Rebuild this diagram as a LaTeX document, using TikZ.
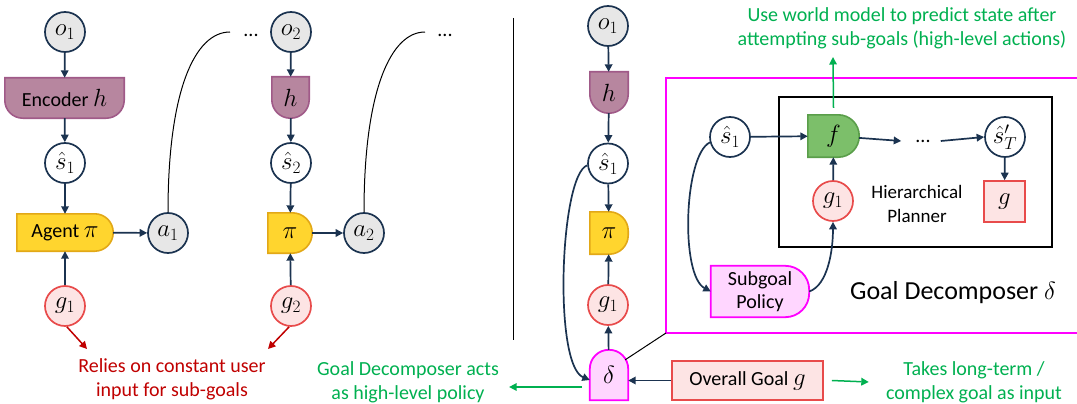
\documentclass[tikz,border=0pt]{standalone}
\usepackage{fontspec}
\setmainfont{Carlito}
\usetikzlibrary{arrows.meta}
\pgfdeclarelayer{background}
\pgfsetlayers{background,main}
\definecolor{navy}{HTML}{1B3350}
\definecolor{grayfill}{HTML}{E7E7E7}
\definecolor{mauvefill}{HTML}{B7869F}
\definecolor{mauveline}{HTML}{A05A88}
\definecolor{yelfill}{HTML}{FFD52E}
\definecolor{yelline}{HTML}{E2A817}
\definecolor{pinkfill}{HTML}{FDE4E4}
\definecolor{redline}{HTML}{E84B4B}
\definecolor{darkred}{HTML}{C00000}
\definecolor{offgreen}{HTML}{00B050}
\definecolor{magentaline}{HTML}{FF00FF}
\definecolor{magfill}{HTML}{FFD6FF}
\definecolor{ffill}{HTML}{7CBF6A}
\definecolor{fline}{HTML}{5A9E4A}
\newcommand\shapeR[3]{% right side rounded
 \draw[#3] (#1.south west) -- ([xshift=-#2]#1.south east) arc[start angle=-90,end angle=0,radius=#2] -- ([yshift=-#2]#1.north east) arc[start angle=0,end angle=90,radius=#2] -- (#1.north west) -- cycle;}
\newcommand\shapeB[3]{% bottom rounded
 \draw[#3] (#1.north west) -- (#1.north east) -- ([yshift=#2]#1.south east) arc[start angle=0,end angle=-90,radius=#2] -- ([xshift=#2]#1.south west) arc[start angle=-90,end angle=-180,radius=#2] -- cycle;}
\newcommand\shapeT[3]{% top rounded
 \draw[#3] (#1.south west) -- (#1.south east) -- ([yshift=-#2]#1.north east) arc[start angle=0,end angle=90,radius=#2] -- ([xshift=#2]#1.north west) arc[start angle=90,end angle=180,radius=#2] -- cycle;}
\tikzset{
 x=1pt,y=1pt,
 var/.style={circle,draw=navy,line width=1.7pt,minimum size=40pt,inner sep=0pt,font=\fontsize{26}{28}\selectfont},
 obs/.style={var,fill=grayfill},
 goalc/.style={var,draw=redline,fill=pinkfill},
 hold/.style={rectangle,draw=none,inner sep=0pt,font=\fontsize{20}{24}\selectfont},
 big/.style={font=\fontsize{26}{28}\selectfont},
 mauve/.style={fill=mauvefill,draw=mauveline,line width=1.6pt},
 yel/.style={fill=yelfill,draw=yelline,line width=1.6pt},
 grn/.style={fill=ffill,draw=fline,line width=1.6pt},
 mag/.style={fill=magfill,draw=magentaline,line width=1.8pt},
 arr/.style={draw=navy,line width=1.7pt,-{Triangle[length=7.5pt,width=7.5pt]}},
 redarr/.style={draw=darkred,line width=1.5pt,-{Triangle[length=7.5pt,width=7.5pt]}},
 grnarr/.style={draw=offgreen,line width=1.5pt,-{Triangle[length=7.5pt,width=7.5pt]}},
 thin/.style={draw=black,line width=1pt},
 lbl/.style={align=center,font=\fontsize{20}{24}\selectfont,inner sep=0pt},
 dotsn/.style={font=\fontsize{20}{24}\selectfont,inner sep=0pt},
}
\begin{document}
\begin{tikzpicture}
\useasboundingbox (0,0) rectangle (1077,-404);
% ---------- left panel ----------
\node[obs] (o1a) at (65,-32) {$o_1$};
\node[hold,minimum width=119pt,minimum height=40pt] (enc) at (64.5,-98) {Encoder {\fontsize{23}{24}\selectfont$h$}};
\node[var] (s1a) at (65,-163) {$\hat s_1$};
\node[hold,minimum width=96pt,minimum height=37pt] (agent) at (65,-232.5) {Agent {\fontsize{23}{24}\selectfont$\pi$}};
\node[obs] (a1) at (168,-233) {$a_1$};
\node[goalc] (g1a) at (65,-306) {$g_1$};
\node[dotsn] (d1) at (251,-35) {...};

\node[obs] (o2) at (291,-32) {$o_2$};
\node[hold,big,minimum width=37pt,minimum height=41pt] (h2) at (290.5,-97.5) {$h$};
\node[var] (s2) at (291,-163) {$\hat s_2$};
\node[hold,big,minimum width=44pt,minimum height=40pt] (pi2) at (290,-233) {$\pi$};
\node[obs] (a2) at (364,-233) {$a_2$};
\node[goalc] (g2) at (291,-306) {$g_2$};
\node[dotsn] (d2) at (445,-35) {...};

\node[lbl,text=darkred] (relies) at (172,-379) {Relies on constant user\\input for sub-goals};

\begin{pgfonlayer}{background}
\shapeB{enc}{18pt}{mauve}
\shapeR{agent}{18.5pt}{yel}
\shapeB{h2}{18.5pt}{mauve}
\shapeR{pi2}{20pt}{yel}
\end{pgfonlayer}

\draw[arr] (o1a) -- (enc);
\draw[arr] (enc) -- (s1a);
\draw[arr] (s1a) -- (agent);
\draw[arr] (g1a) -- (agent);
\draw[arr] (agent) -- (a1);
\draw[arr] (o2) -- (h2);
\draw[arr] (h2) -- (s2);
\draw[arr] (s2) -- (pi2);
\draw[arr] (g2) -- (pi2);
\draw[arr] (pi2) -- (a2);
\coordinate (e1) at (230,-32);
\coordinate (e2) at (425,-32);
\draw[thin] (a1.north) .. controls (168,-90) and (195,-32) .. (e1);
\draw[thin] (a2.north) .. controls (364,-90) and (391,-32) .. (e2);
\draw[redarr] (g1a.-85) -- (87,-349);
\draw[redarr] (g2.-95) -- (268,-349);

% separator
\coordinate (sepT) at (513,-18);
\coordinate (sepB) at (513,-340);
\draw[thin] (sepT) -- (sepB);

% ---------- right panel ----------
\coordinate (mtr) at (1078,-78);
\coordinate (mtl) at (666,-78);
\coordinate (mbl) at (666,-333);
\coordinate (mbr) at (1078,-333);
\draw[draw=magentaline,line width=1.8pt] (mtr) -- (mtl) -- (mbl) -- (mbr);
\node[rectangle,draw=black,line width=1.8pt,minimum width=273pt,minimum height=150pt,inner sep=0pt] (hbox) at (915.5,-172) {};

\node[obs] (o1b) at (608,-26) {$o_1$};
\node[hold,big,minimum width=38pt,minimum height=41pt] (hb) at (609,-92.5) {$h$};
\node[var] (s1b) at (608,-163.5) {$\hat s_1$};
\node[hold,big,minimum width=38pt,minimum height=42pt] (pib) at (609,-233) {$\pi$};
\node[goalc] (g1b) at (608,-305) {$g_1$};
\node[hold,big,minimum width=38pt,minimum height=50pt] (delta) at (609,-375) {$\delta$};
\node[rectangle,draw=redline,fill=pinkfill,line width=1.6pt,minimum width=151pt,minimum height=39pt,inner sep=0pt,font=\fontsize{20}{24}\selectfont] (goal) at (747.5,-380.5) {Overall Goal {\fontsize{23}{24}\selectfont$g$}};

\node[var] (s1c) at (730,-137) {$\hat s_1$};
\node[hold,big,minimum width=51pt,minimum height=42pt] (f) at (833.5,-136) {$f$};
\node[dotsn] (dc) at (923,-141) {...};
\node[var] (sT) at (1005,-137) {$\hat s'_T$};
\node[rectangle,draw=redline,fill=pinkfill,line width=1.6pt,minimum size=41pt,inner sep=0pt,big] (gbox) at (1004.5,-201.5) {$g$};
\node[goalc] (g1c) at (833,-201) {$g_1$};
\node[lbl,font=\fontsize{19}{24}\selectfont] (hp) at (917,-204) {Hierarchical\\Planner};
\node[hold,align=center,minimum width=98pt,minimum height=51pt,font=\fontsize{20}{23}\selectfont] (sub) at (760,-291.5) {Subgoal\\Policy};
\node[lbl,font=\fontsize{26}{28}\selectfont] (gd) at (953,-293) {Goal Decomposer {\fontsize{28}{28}\selectfont$\delta$}};

\node[lbl,text=offgreen] (useW) at (902,-28) {Use world model to predict state after\\attempting sub-goals (high-level actions)};
\node[lbl,text=offgreen] (gdact) at (408,-382) {Goal Decomposer acts\\as high-level policy};
\node[lbl,text=offgreen] (takes) at (974,-382) {Takes long-term /\\complex goal as input};

\begin{pgfonlayer}{background}
\shapeB{hb}{19pt}{mauve}
\shapeR{pib}{19pt}{yel}
\shapeT{delta}{19pt}{mag}
\shapeR{f}{21pt}{grn}
\shapeR{sub}{24pt}{mag}
\end{pgfonlayer}

\draw[arr] (o1b) -- (hb);
\draw[arr] (hb) -- (s1b);
\draw[arr] (s1b) -- (pib);
\draw[arr] (g1b) -- (pib);
\draw[arr] (delta) -- (g1b);
\draw[arr] (goal.west) -- (goal.west -| delta.east);
\draw[arr] (s1b.185) .. controls (560,-175) and (553,-365) .. ([yshift=-5pt]delta.west);
\draw[thin] ([xshift=-3pt,yshift=-10pt]delta.north east) -- (mbl);

\draw[arr] (s1c) -- (f);
\draw[arr] (f) -- ([xshift=-14pt]dc.west);
\draw[arr] ([xshift=10pt]dc.east) -- (sT.west);
\draw[arr] (sT) -- (gbox);
\draw[arr] (g1c) -- (f);
\draw[arr] (s1c.195) .. controls (684,-155) and (680,-275) .. (sub.west);
\draw[arr] (sub.east) .. controls (828,-285) and (833,-250) .. (g1c.south);

\coordinate (gl) at (582,-387);
\path (gl -| gdact.east) coordinate (gle);
\draw[grnarr] (gl) -- ([xshift=10pt]gle);
\draw[grnarr] ([xshift=8pt]goal.east) -- ([xshift=-17pt]takes.west);
\draw[grnarr] ([yshift=7pt]f.north) -- (833,-57);
\end{tikzpicture}
\end{document}
